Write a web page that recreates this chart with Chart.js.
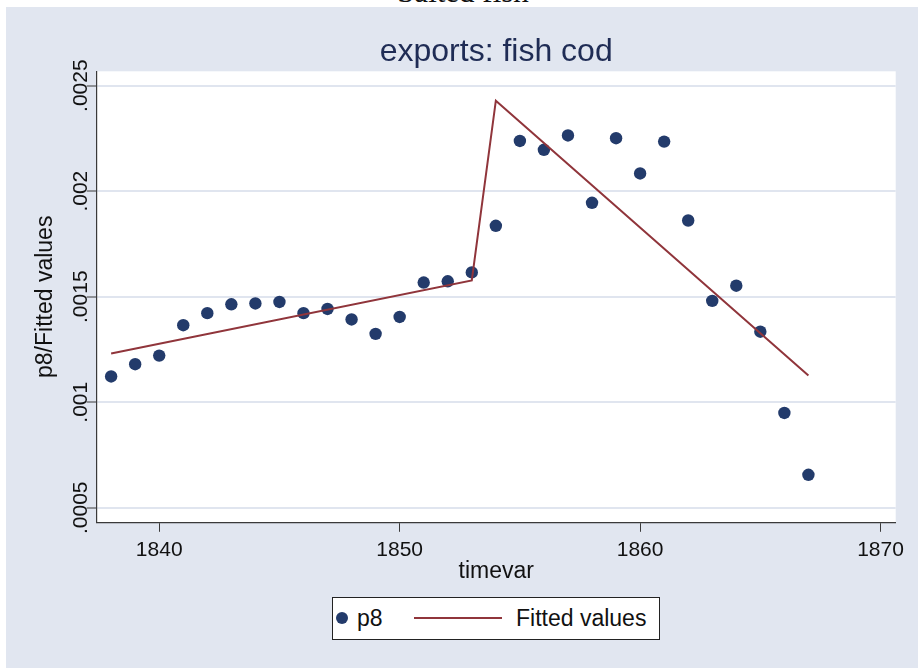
<!DOCTYPE html>
<html>
<head>
<meta charset="utf-8">
<script src="https://cdn.jsdelivr.net/npm/chart.js@4.4.1/dist/chart.umd.min.js"></script>
<style>
  html, body { margin: 0; padding: 0; background: #ffffff; width: 918px; height: 668px; overflow: hidden; }
  #topstrip { position: absolute; left: 0; top: 0; width: 918px; height: 7px; overflow: hidden; background: #ffffff; }
  #topstrip span { position: absolute; left: 0; width: 926px; text-align: center; top: -26px; font-family: "Liberation Serif", "Times New Roman", serif; font-size: 31px; line-height: 36px; color: #111; white-space: nowrap; }
  #bg { position: absolute; left: 6px; top: 7px; width: 912px; height: 661px; background: #E1E6F0; }
  #wrap { position: absolute; left: 0; top: 0; width: 912px; height: 661px; }
  #legend { position: absolute; left: 332px; top: 597px; width: 326px; height: 41px; border: 1px solid #222; background: #ffffff; font-family: "Liberation Sans", Arial, sans-serif; font-size: 23px; color: #111; }
  #legend .dot { position: absolute; left: 3px; top: 14px; width: 12px; height: 12px; border-radius: 50%; background: #233B6B; }
  #legend .t1 { position: absolute; left: 24px; top: 6px; line-height: 28px; }
  #legend .ln { position: absolute; left: 81px; top: 19px; width: 88px; height: 2px; background: #90353B; }
  #legend .t2 { position: absolute; left: 183px; top: 6px; line-height: 28px; }
</style>
</head>
<body>
<div id="topstrip"><span>Salted fish</span></div>
<div id="bg"><div id="wrap"><canvas id="c" width="912" height="661"></canvas></div></div>
<div id="legend"><div class="dot"></div><div class="t1">p8</div><div class="ln"></div><div class="t2">Fitted values</div></div>
<script>
// ---- data ----
const years = [1838, 1839, 1840, 1841, 1842, 1843, 1844, 1845, 1846, 1847,
               1848, 1849, 1850, 1851, 1852, 1853, 1854, 1855, 1856, 1857,
               1858, 1859, 1860, 1861, 1862, 1863, 1864, 1865, 1866, 1867];
const p8 = [0.001122, 0.001180, 0.001221, 0.001365, 0.001422, 0.001464, 0.001468, 0.001475, 0.001422, 0.001442,
            0.001392, 0.001324, 0.001404, 0.001567, 0.001573, 0.001615, 0.001836, 0.002238, 0.002196, 0.002264,
            0.001945, 0.002251, 0.002084, 0.002235, 0.001861, 0.001480, 0.001552, 0.001334, 0.000949, 0.000656];
const fitYears = [1838, 1853, 1854, 1867];
const fitValues = [0.001231, 0.001577, 0.002429, 0.001127];
const xTicks = [1840, 1850, 1860, 1870];
const yTicks = [0.0005, 0.001, 0.0015, 0.002, 0.0025];
const yTickLabels = ['.0005', '.001', '.0015', '.002', '.0025'];
const chartTitle = 'exports: fish cod';
const xTitle = 'timevar';
const yTitle = 'p8/Fitted values';

const NAVY = '#233B6B';
const MAROON = '#90353B';
const GRID = '#E0E5EF';
const AXIS = '#3a3a3a';
const FONT = '"Liberation Sans", Arial, sans-serif';

const plotBgPlugin = {
  id: 'plotBg',
  beforeDraw(chart) {
    const a = chart.chartArea;
    const ctx = chart.ctx;
    ctx.save();
    ctx.fillStyle = '#ffffff';
    ctx.fillRect(a.left, a.top, a.right - a.left, a.bottom - a.top);
    ctx.restore();
  }
};

const yTickLabelPlugin = {
  id: 'yTickLabels',
  afterDraw(chart) {
    const ys = chart.scales.y;
    const ctx = chart.ctx;
    ctx.save();
    ctx.font = '21px ' + FONT;
    ctx.fillStyle = '#111';
    ctx.textAlign = 'center';
    ctx.textBaseline = 'middle';
    yTicks.forEach((v, i) => {
      const py = ys.getPixelForValue(v);
      ctx.save();
      ctx.translate(75, py);
      ctx.rotate(-Math.PI / 2);
      ctx.fillText(yTickLabels[i], 0, 0);
      ctx.restore();
    });
    ctx.restore();
  }
};

new Chart(document.getElementById('c'), {
  type: 'scatter',
  data: {
    datasets: [
      {
        label: 'p8',
        data: years.map((y, i) => ({ x: y, y: p8[i] })),
        backgroundColor: NAVY,
        borderColor: NAVY,
        pointRadius: 6.2,
        pointBorderWidth: 0,
        showLine: false,
        order: 1
      },
      {
        label: 'Fitted values',
        data: fitYears.map((y, i) => ({ x: y, y: fitValues[i] })),
        borderColor: MAROON,
        borderWidth: 2,
        pointRadius: 0,
        showLine: true,
        tension: 0,
        order: 0
      }
    ]
  },
  options: {
    responsive: false,
    animation: false,
    devicePixelRatio: 1,
    layout: { padding: { left: 0, right: 22.3, top: 0, bottom: 75.7 } },
    plugins: {
      legend: { display: false },
      tooltip: { enabled: false },
      title: {
        display: true,
        text: chartTitle,
        fullSize: false,
        color: '#1F2C55',
        font: { family: FONT, size: 32, weight: 'normal', lineHeight: 1.2 },
        padding: { top: 25.5, bottom: 0.4 }
      }
    },
    scales: {
      x: {
        type: 'linear',
        position: 'bottom',
        min: 1837.4,
        max: 1870.63,
        afterBuildTicks(s) { s.ticks = xTicks.map(v => ({ value: v })); },
        afterFit(s) { s.height = 70; },
        ticks: {
          color: '#111',
          font: { family: FONT, size: 21, lineHeight: 1.2 },
          padding: 5.6,
          maxRotation: 0,
          callback: v => String(v)
        },
        grid: { drawOnChartArea: false, drawTicks: true, tickLength: 9.5, tickColor: AXIS, tickWidth: 1 },
        border: { display: true, color: AXIS, width: 1.2 },
        title: {
          display: true,
          text: xTitle,
          color: '#111',
          font: { family: FONT, size: 23, lineHeight: 1.2 },
          padding: { top: 0, bottom: 6.5 }
        }
      },
      y: {
        type: 'linear',
        position: 'left',
        min: 0.000431,
        max: 0.002568,
        afterBuildTicks(s) { s.ticks = yTicks.map(v => ({ value: v })); },
        afterFit(s) { s.width = 90.7; },
        ticks: { display: false },
        grid: { drawOnChartArea: true, color: GRID, lineWidth: 2, drawTicks: true, tickLength: 10, tickColor: AXIS, tickWidth: 1 },
        border: { display: true, color: AXIS, width: 1.2 },
        title: {
          display: true,
          text: yTitle,
          color: '#111',
          font: { family: FONT, size: 23, lineHeight: 1.2 },
          padding: { top: 26.2, bottom: 0 }
        }
      }
    }
  },
  plugins: [plotBgPlugin, yTickLabelPlugin]
});
</script>
</body>
</html>
